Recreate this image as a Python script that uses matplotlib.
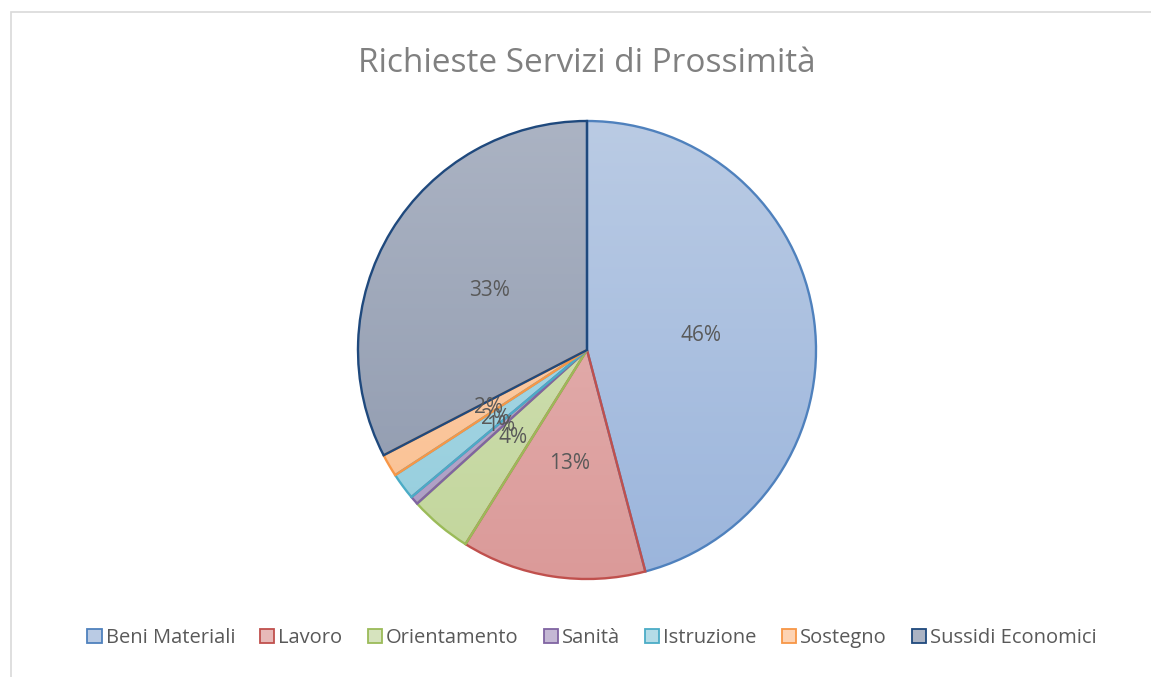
import numpy as np
import matplotlib.pyplot as plt
from matplotlib.patches import Patch, Rectangle
from matplotlib.colors import LinearSegmentedColormap

plt.rcParams['font.family'] = ['Open Sans', 'DejaVu Sans']

# data (percent shares)
categories = ['Beni Materiali', 'Lavoro', 'Orientamento', 'Sanità',
              'Istruzione', 'Sostegno', 'Sussidi Economici']
shares = [45.9, 13.0, 4.4, 0.6, 1.9, 1.6, 32.6]

# excel-like colours: gradient top, gradient bottom, outline
top_colors = ['#BACBE4', '#E7B9B8', '#D6E3BE', '#C4B8D4', '#B4DCE7', '#FDD3B3', '#ABB3C3']
bottom_colors = ['#9BB5DC', '#DB9A99', '#C2D69B', '#AB9BC3', '#93CDDD', '#FABF8F', '#8D98AD']
edge_colors = ['#4F81BD', '#C0504D', '#9BBB59', '#8064A2', '#4BACC6', '#F79646', '#1F497D']

text_color = '#595959'
title_color = '#808080'

W, H = 1151, 677
fig = plt.figure(figsize=(W / 100, H / 100), dpi=100)

# chart area frame
fig.patches.append(Rectangle((11 / W, -0.01), 1.02, (H - 12) / H + 0.01,
                             transform=fig.transFigure, fill=False,
                             edgecolor='#D9D9D9', linewidth=1.2))

cx, cy, r = 587, 350, 229
ax = fig.add_axes([(cx - r) / W, (H - cy - r) / H, 2 * r / W, 2 * r / H])

wedges, texts, autotexts = ax.pie(
    shares,
    startangle=90,
    counterclock=False,
    radius=1,
    autopct=lambda p: '%d%%' % int(round(p)),
    pctdistance=0.5,
    wedgeprops=dict(linewidth=1.7),
    textprops=dict(color=text_color, fontsize=15))

grad = np.linspace(0, 1, 256).reshape(-1, 1)
for w, c_top, c_bot, c_edge in zip(wedges, top_colors, bottom_colors, edge_colors):
    cmap = LinearSegmentedColormap.from_list('g', [c_top, c_bot])
    im = ax.imshow(grad, extent=[-1, 1, -1, 1], origin='upper', cmap=cmap,
                   aspect='auto', zorder=0.5, interpolation='bilinear')
    im.set_clip_path(w)
    w.set_facecolor('none')
    w.set_edgecolor(c_edge)
    w.set_zorder(1)
    w.set_clip_on(False)

for t in autotexts:
    t.set_zorder(3)

ax.set_xlim(-1, 1)
ax.set_ylim(-1, 1)
ax.set_aspect('auto')
ax.axis('off')

fig.text(cx / W, 1 - 64 / H, 'Richieste Servizi di Prossimità',
         ha='center', va='center', fontsize=24, color=title_color)

handles = [Patch(facecolor=tc, edgecolor=ec, linewidth=1.3)
           for tc, ec in zip(top_colors, edge_colors)]
fig.legend(handles, categories, loc='center', bbox_to_anchor=(592 / W, 1 - 638 / H),
           ncol=len(categories), frameon=False, fontsize=14.5,
           labelcolor=text_color, handlelength=0.7, handleheight=0.7,
           handletextpad=0.2, columnspacing=1.25)

fig.savefig('out.png', dpi=100)
